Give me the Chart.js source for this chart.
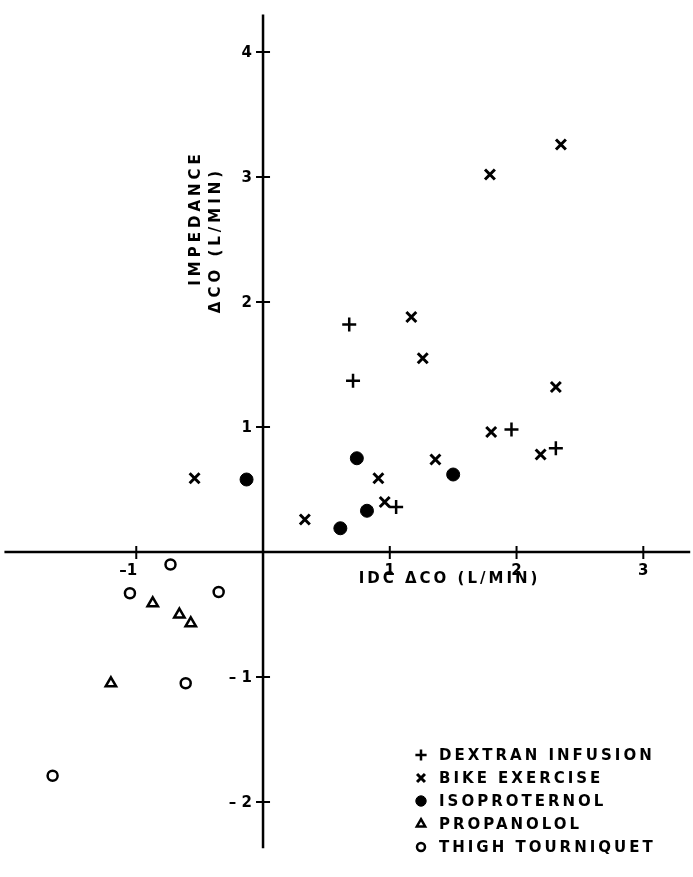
<!DOCTYPE html>
<html>
<head>
<meta charset="utf-8">
<script src="https://cdn.jsdelivr.net/npm/chart.js@4.4.1/dist/chart.umd.min.js"></script>
<style>
  html, body { margin: 0; padding: 0; background: #fff; }
  canvas { display: block; }
</style>
</head>
<body>
<canvas id="coChart" width="693" height="877"></canvas>
<script>
// Data (IDC dCO vs impedance dCO, L/min)
const dextranX = [0.68, 0.71, 1.05, 1.96, 2.31];
const dextranY = [1.82, 1.37, 0.36, 0.98, 0.83];

const bikeX = [-0.54, 0.33, 0.91, 0.96, 1.17, 1.26, 1.36, 1.79, 1.80, 2.19, 2.31, 2.35];
const bikeY = [0.59, 0.26, 0.59, 0.40, 1.88, 1.55, 0.74, 3.02, 0.96, 0.78, 1.32, 3.26];

const isoX = [-0.13, 0.61, 0.74, 0.82, 1.50];
const isoY = [0.58, 0.19, 0.75, 0.33, 0.62];

const propX = [-1.20, -0.87, -0.66, -0.57];
const propY = [-1.05, -0.41, -0.50, -0.57];

const tourX = [-1.66, -1.05, -0.73, -0.61, -0.35];
const tourY = [-1.79, -0.33, -0.10, -1.05, -0.32];

const xTicks = [-1, 1, 2, 3];
const yTicks = [-2, -1, 1, 2, 3, 4];

const legendLabels = ['DEXTRAN INFUSION', 'BIKE EXERCISE', 'ISOPROTERNOL', 'PROPANOLOL', 'THIGH TOURNIQUET'];

function pts(xs, ys) {
    return xs.map((x, i) => ({ x: x, y: ys[i] }));
}

const FONT = '"DejaVu Sans", sans-serif';

// axes through the origin, tick crosses, labels and the legend
const axesPlugin = {
    id: 'axesPlugin',
    beforeDatasetsDraw(chart) {
        const ctx = chart.ctx;
        const xs = chart.scales.x;
        const ys = chart.scales.y;
        const x0 = xs.getPixelForValue(0);
        const y0 = ys.getPixelForValue(0);

        ctx.save();
        ctx.strokeStyle = '#000';
        ctx.lineWidth = 2.5;
        ctx.beginPath();
        ctx.moveTo(xs.getPixelForValue(-2.04), y0);
        ctx.lineTo(xs.getPixelForValue(3.37), y0);
        ctx.moveTo(x0, ys.getPixelForValue(4.3));
        ctx.lineTo(x0, ys.getPixelForValue(-2.37));
        ctx.stroke();

        // tick crosses
        ctx.lineWidth = 2;
        ctx.beginPath();
        xTicks.forEach(v => {
            const px = xs.getPixelForValue(v);
            ctx.moveTo(px, y0 - 6);
            ctx.lineTo(px, y0 + 7);
        });
        yTicks.forEach(v => {
            const py = ys.getPixelForValue(v);
            ctx.moveTo(x0 - 7, py);
            ctx.lineTo(x0 + 7, py);
        });
        ctx.stroke();

        // tick labels
        ctx.fillStyle = '#000';
        ctx.font = 'bold 15px ' + FONT;
        ctx.textAlign = 'center';
        ctx.textBaseline = 'middle';
        xTicks.forEach(v => {
            const px = xs.getPixelForValue(v);
            const label = v < 0 ? '\u2013' + Math.abs(v) : String(v);
            ctx.fillText(label, px - (v < 0 ? 8 : 0), y0 + 19);
        });
        ctx.textAlign = 'right';
        yTicks.forEach(v => {
            const py = ys.getPixelForValue(v);
            const label = v < 0 ? '\u2013 ' + Math.abs(v) : String(v);
            ctx.fillText(label, x0 - 11, py + 1);
        });

        // axis titles
        ctx.font = 'bold 15px ' + FONT;
        ctx.letterSpacing = '3px';
        ctx.textAlign = 'center';
        ctx.fillText('IDC \u0394CO (L/MIN)', xs.getPixelForValue(1.44) + 4, y0 + 27);

        ctx.letterSpacing = '4px';
        ctx.save();
        ctx.translate(196, 220);
        ctx.rotate(-Math.PI / 2);
        ctx.fillText('IMPEDANCE', 2, 0);
        ctx.restore();
        ctx.save();
        ctx.translate(216, 242);
        ctx.rotate(-Math.PI / 2);
        ctx.fillText('\u0394CO (L/MIN)', 2, 0);
        ctx.restore();

        ctx.restore();
    },
    afterDatasetsDraw(chart) {
        const ctx = chart.ctx;
        const lx = 421;
        const ly = 755;
        const step = 23;
        ctx.save();
        ctx.font = 'bold 15px ' + FONT;
        ctx.letterSpacing = '3px';
        ctx.textAlign = 'left';
        ctx.textBaseline = 'middle';
        chart.data.datasets.forEach((ds, i) => {
            const y = ly + i * step;
            ctx.fillStyle = ds.backgroundColor;
            ctx.strokeStyle = ds.borderColor;
            ctx.lineWidth = ds.borderWidth;
            Chart.helpers.drawPoint(ctx, {
                pointStyle: ds.pointStyle,
                radius: ds.pointRadius * 0.8,
                borderWidth: ds.borderWidth
            }, lx, y);
            ctx.fillStyle = '#000';
            ctx.fillText(legendLabels[i], lx + 18, y + 1);
        });
        ctx.restore();
    }
};

const ctx = document.getElementById('coChart').getContext('2d');
const coChart = new Chart(ctx, {
    type: 'scatter',
    data: {
        datasets: [
            {
                label: legendLabels[0],
                data: pts(dextranX, dextranY),
                pointStyle: 'cross',
                pointRadius: 7,
                borderWidth: 2.5,
                borderColor: '#000',
                backgroundColor: '#000'
            },
            {
                label: legendLabels[1],
                data: pts(bikeX, bikeY),
                pointStyle: 'crossRot',
                pointRadius: 7,
                borderWidth: 3,
                borderColor: '#000',
                backgroundColor: '#000'
            },
            {
                label: legendLabels[2],
                data: pts(isoX, isoY),
                pointStyle: 'circle',
                pointRadius: 6.5,
                borderWidth: 1,
                borderColor: '#000',
                backgroundColor: '#000'
            },
            {
                label: legendLabels[3],
                data: pts(propX, propY),
                pointStyle: 'triangle',
                pointRadius: 6,
                borderWidth: 2.5,
                borderColor: '#000',
                backgroundColor: '#fff'
            },
            {
                label: legendLabels[4],
                data: pts(tourX, tourY),
                pointStyle: 'circle',
                pointRadius: 5,
                borderWidth: 2.5,
                borderColor: '#000',
                backgroundColor: '#fff'
            }
        ]
    },
    options: {
        responsive: false,
        animation: false,
        devicePixelRatio: 1,
        layout: { padding: 0, autoPadding: false },
        events: [],
        plugins: {
            legend: { display: false },
            tooltip: { enabled: false }
        },
        scales: {
            x: { type: 'linear', display: false, min: -2.075, max: 3.392 },
            y: { type: 'linear', display: false, min: -2.6, max: 4.416 }
        }
    },
    plugins: [axesPlugin]
});
</script>
</body>
</html>
